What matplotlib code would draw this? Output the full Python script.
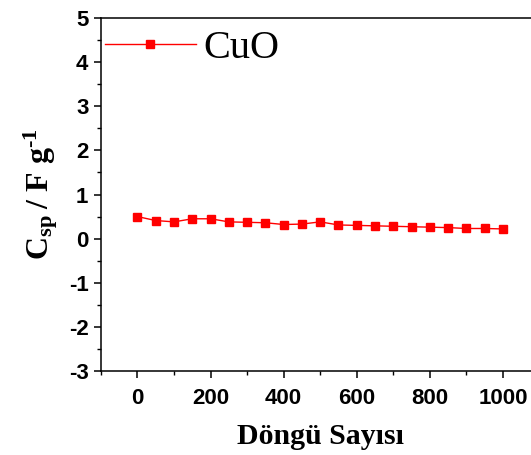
import numpy as np
import matplotlib.pyplot as plt
from matplotlib.ticker import MultipleLocator

# cycle number vs specific capacitance
cycles = list(range(0, 1001, 50))
csp = [0.50, 0.41, 0.38, 0.45, 0.45, 0.38, 0.37, 0.36, 0.32, 0.33, 0.38,
       0.31, 0.30, 0.29, 0.28, 0.27, 0.26, 0.25, 0.23, 0.23, 0.22]
series_name = 'CuO'

plt.rcParams['mathtext.fontset'] = 'custom'
plt.rcParams['mathtext.bf'] = 'Liberation Serif:bold'
plt.rcParams['mathtext.rm'] = 'Liberation Serif:bold'
plt.rcParams['mathtext.it'] = 'Liberation Serif:bold'
plt.rcParams['axes.unicode_minus'] = False

fig = plt.figure(figsize=(5.31, 4.55), dpi=100)
ax = fig.add_axes([0.190, 0.1846, 0.826, 0.7758])

ax.plot(cycles, csp, color='red', lw=1.0, marker='s', markersize=5.5,
        label=series_name)

ax.set_xlim(-100, 1100)
ax.set_ylim(-3, 5)
ax.xaxis.set_major_locator(MultipleLocator(200))
ax.xaxis.set_minor_locator(MultipleLocator(100))
ax.yaxis.set_major_locator(MultipleLocator(1))
ax.yaxis.set_minor_locator(MultipleLocator(0.5))
ax.tick_params(which='major', direction='out', length=5, width=1.1,
               labelsize=16)
ax.tick_params(axis='x', which='major', pad=7)
ax.tick_params(axis='y', which='major', pad=4)
ax.tick_params(which='minor', direction='out', length=3, width=1.0)
for lab in ax.get_xticklabels() + ax.get_yticklabels():
    lab.set_fontfamily('Liberation Sans')
    lab.set_fontweight('bold')
for sp in ax.spines.values():
    sp.set_linewidth(1.1)

ax.set_xlabel('Döngü Sayısı', fontfamily='Liberation Serif',
              fontweight='bold', fontsize=21.5, labelpad=10)
ax.set_ylabel('C$_{\\mathbf{sp}}$\u2009/ F g$^{\\mathbf{\\text{-1}}}$',
              fontfamily='Liberation Serif', fontweight='bold',
              fontsize=23, labelpad=6)

leg = ax.legend(loc='upper left', bbox_to_anchor=(0.0, 0.977), frameon=False,
                prop={'family': 'Liberation Serif', 'size': 29},
                handlelength=2.25, handletextpad=0.2, borderaxespad=0.0,
                borderpad=0.1, markerscale=0.95)

fig.savefig('out.png', dpi=100)
